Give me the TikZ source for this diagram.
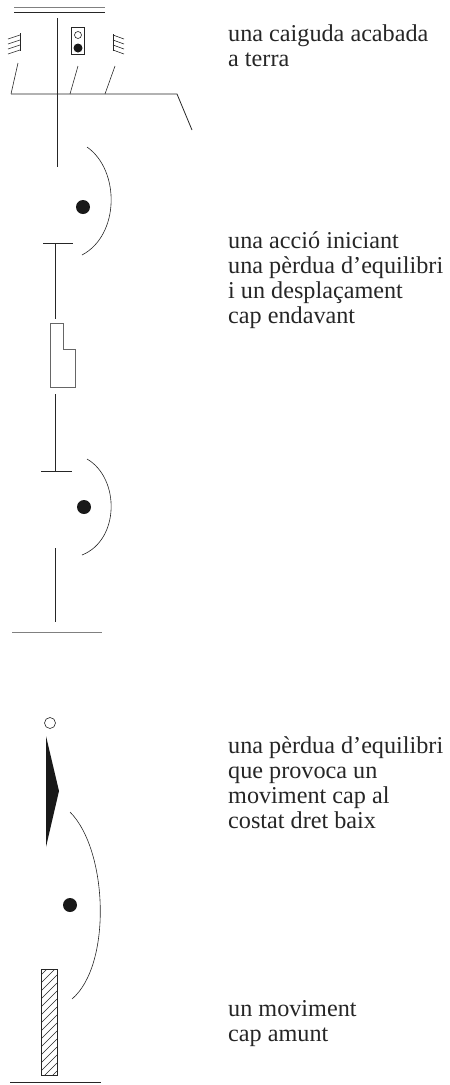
\documentclass[tikz,border=0pt]{standalone}
\usepackage{fontspec}
\setmainfont{Liberation Serif}
\begin{document}
\begin{tikzpicture}[x=1pt,y=-1pt,
  ln/.style={draw=black!85, line width=0.8pt},
  thin/.style={draw=black!85, line width=0.6pt},
  gry/.style={draw=black!50, line width=1pt},
  lbl/.style={anchor=base west, inner sep=0pt, font=\fontsize{24.2}{25}\selectfont, text=black!85},
  bigdot/.style={circle, fill=black!90, inner sep=0pt, minimum size=14pt},
  smalldot/.style={circle, fill=black!90, inner sep=0pt, minimum size=9pt},
  ring/.style={circle, draw=black!85, inner sep=0pt, line width=0.6pt}]
\useasboundingbox (0,0) rectangle (450,1085);

% ---------- figure 1 ----------
\draw[gry] (14,7.5) -- (105,7.5);
\draw[ln] (14,12.5) -- (105,12.5);
\coordinate (v1t) at (57,18);
\coordinate (v1b) at (57,167);
\draw[ln] (v1t) -- (v1b);
\coordinate (h1l) at (11,94);
\coordinate (h1r) at (177,94);
\coordinate (h1e) at (192,130);
\draw[ln] (h1l) -- (h1r) -- (h1e);
\draw[thin] (11,94) -- (18,63);
\draw[thin] (70,94) -- (78,66);
\draw[thin] (105,94) -- (115,66);
% left symbol
\draw[thin] (20,33) -- (20,51);
\foreach \yy in {35,40,45,50} { \draw[thin] (8,\yy+4) -- (20,\yy); }
% right symbol
\draw[thin] (113,34) -- (113,51);
\foreach \yy in {35,40,45,50} { \draw[thin] (113,\yy) -- (124,\yy+4); }
% middle symbol
\node[draw=black!85, line width=0.8pt, rectangle, inner sep=0pt, minimum width=13pt, minimum height=27pt] (box1) at (78,41) {};
\node[ring, minimum size=7pt] (r1) at (78,35) {};
\node[smalldot] (d1) at (78,48) {};

\node[lbl] (t1a) at (228,41) {una caiguda acabada};
\node[lbl] (t1b) at (228,66) {a terra};

% ---------- figure 2 ----------
\draw[thin] (87,147) .. controls (120,170) and (120,235) .. (82,255);
\node[bigdot] (d2) at (83,207) {};
\draw[ln] (43,243) -- (73,243);
\draw[ln] (55.5,243) -- (55.5,319);
\draw[draw=black!60, line width=0.9pt] (50,323) -- (63,323) -- (63,349) -- (75,349) -- (75,387) -- (50,387) -- cycle;
\draw[ln] (55.5,394) -- (55.5,471);
\draw[ln] (41,471) -- (72,471);
\draw[thin] (87,459) .. controls (120,478) and (120,540) .. (82,555);
\node[bigdot] (d3) at (84,507) {};
\draw[ln] (55.5,548) -- (55.5,622);
\draw[gry] (12,632) -- (102,632);

\node[lbl] (t2a) at (228,248) {una acció iniciant};
\node[lbl] (t2b) at (228,273) {una pèrdua d’equilibri};
\node[lbl] (t2c) at (228,298) {i un desplaçament};
\node[lbl] (t2d) at (228,323) {cap endavant};

% ---------- figure 3 ----------
\node[ring, minimum size=11pt] (r3) at (50,723) {};
\fill[black!90] (46,736) -- (59,791) -- (46,847) -- cycle;
\draw[thin] (70,812) .. controls (108,850) and (112,965) .. (72,999);
\node[bigdot] (d4) at (70,905) {};
\begin{scope}
  \clip (41,969) rectangle (57,1075);
  \foreach \yy in {975,983,...,1099} { \draw[thin] (41,\yy) -- (57,\yy-16); }
\end{scope}
\draw[ln] (41,969) rectangle (57,1075);
\draw[ln] (10,1082) -- (101,1082);

\node[lbl] (t3a) at (228,753) {una pèrdua d’equilibri};
\node[lbl] (t3b) at (228,778) {que provoca un};
\node[lbl] (t3c) at (228,803) {moviment cap al};
\node[lbl] (t3d) at (228,828) {costat dret baix};

\node[lbl] (t4a) at (228,1016) {un moviment};
\node[lbl] (t4b) at (228,1041) {cap amunt};
\end{tikzpicture}
\end{document}
